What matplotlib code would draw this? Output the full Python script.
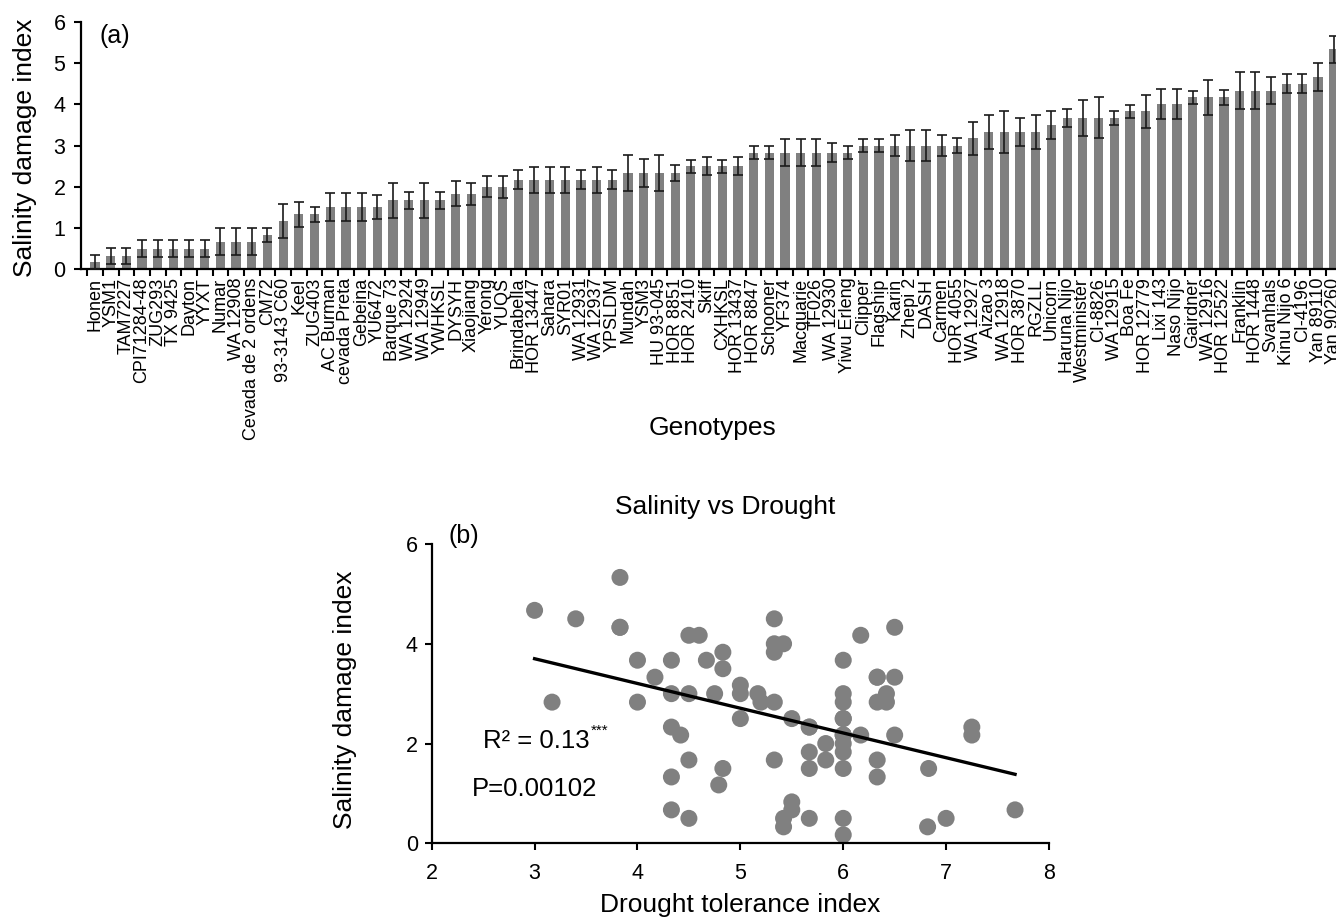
import numpy as np
import matplotlib
matplotlib.use("Agg")
import matplotlib.pyplot as plt
from matplotlib.ticker import FixedLocator, MultipleLocator

plt.rcParams['font.family'] = ['Liberation Sans', 'DejaVu Sans']

# DATA

genotypes = [
    "Honen", "YSM1", "TAM7227", "CPI71284-48", "ZUG293", "TX 9425", "Dayton", "YYXT",
    "Numar", "WA 12908", "Cevada de 2 ordens", "CM72", "93-3143 C60", "Keel", "ZUG403",
    "AC Burman", "cevada Preta", "Gebeina", "YU6472", "Barque 73", "WA 12924", "WA 12949",
    "YWHKSL", "DYSYH", "Xiaojiang", "Yerong", "YUQS", "Brindabella", "HOR 13447", "Sahara",
    "SYR01", "WA 12931", "WA 12937", "YPSLDM", "Mundah", "YSM3", "HU 93-045", "HOR 8851",
    "HOR 2410", "Skiff", "CXHKSL", "HOR 13437", "HOR 8847", "Schooner", "YF374", "Macquarie",
    "TF026", "WA 12930", "Yiwu Erleng", "Clipper", "Flagship", "Karin", "Zhepi 2", "DASH",
    "Carmen", "HOR 4055", "WA 12927", "Aizao 3", "WA 12918", "HOR 3870", "RGZLL", "Unicorn",
    "Haruna Nijo", "Westminister", "CI-8826", "WA 12915", "Boa Fe", "HOR 12779", "Lixi 143",
    "Naso Nijo", "Gairdner", "WA 12916", "HOR 12522", "Franklin", "HOR 1448", "Svanhals",
    "Kinu Nijo 6", "CI-4196", "Yan 89110", "Yan 90260",
]

salinity = [
    0.17, 0.33, 0.33, 0.5, 0.5, 0.5, 0.5, 0.5, 0.67, 0.67,
    0.67, 0.83, 1.17, 1.33, 1.33, 1.5, 1.5, 1.5, 1.5, 1.67,
    1.67, 1.67, 1.67, 1.83, 1.83, 2.0, 2.0, 2.17, 2.17, 2.17,
    2.17, 2.17, 2.17, 2.17, 2.33, 2.33, 2.33, 2.33, 2.5, 2.5,
    2.5, 2.5, 2.83, 2.83, 2.83, 2.83, 2.83, 2.83, 2.83, 3.0,
    3.0, 3.0, 3.0, 3.0, 3.0, 3.0, 3.17, 3.33, 3.33, 3.33,
    3.33, 3.5, 3.67, 3.67, 3.67, 3.67, 3.83, 3.83, 4.0, 4.0,
    4.17, 4.17, 4.17, 4.33, 4.33, 4.33, 4.5, 4.5, 4.67, 5.33,
]

salinity_err = [
    0.17, 0.19, 0.19, 0.21, 0.21, 0.21, 0.21, 0.21, 0.33, 0.33,
    0.33, 0.16, 0.41, 0.30, 0.19, 0.34, 0.34, 0.34, 0.29, 0.42,
    0.21, 0.42, 0.21, 0.30, 0.26, 0.26, 0.27, 0.23, 0.31, 0.31,
    0.31, 0.23, 0.31, 0.23, 0.43, 0.34, 0.43, 0.19, 0.16, 0.22,
    0.16, 0.22, 0.16, 0.16, 0.32, 0.32, 0.32, 0.24, 0.16, 0.15,
    0.15, 0.25, 0.38, 0.38, 0.25, 0.19, 0.41, 0.42, 0.51, 0.34,
    0.42, 0.34, 0.21, 0.43, 0.50, 0.17, 0.16, 0.40, 0.36, 0.36,
    0.16, 0.42, 0.18, 0.44, 0.44, 0.33, 0.23, 0.23, 0.34, 0.33,
]

drought = [
    6.0, 5.42, 6.82, 4.5, 5.42, 5.67, 6.0, 7.0, 4.33, 5.5,
    7.67, 5.5, 4.79, 4.33, 6.33, 4.83, 5.67, 6.0, 6.83, 4.5,
    5.33, 5.83, 6.33, 5.67, 6.0, 5.83, 6.0, 4.42, 6.0, 6.17,
    6.5, 7.25, 6.0, 6.0, 4.33, 5.67, 7.25, 5.67, 5.0, 5.5,
    6.0, 6.0, 3.17, 4.0, 5.2, 5.33, 6.0, 6.33, 6.42, 4.33,
    4.5, 4.75, 5.0, 5.17, 6.0, 6.42, 5.0, 4.17, 6.33, 6.5,
    6.33, 4.83, 4.0, 4.33, 4.67, 6.0, 4.83, 5.33, 5.33, 5.42,
    4.5, 4.6, 6.17, 3.83, 6.5, 3.83, 3.4, 5.33, 3.0, 3.83,
]

W, H = 1336, 919
fig = plt.figure(figsize=(W / 100, H / 100), dpi=100)


def fx(px):
    return px / W


def fy(py):
    return 1 - py / H


# (a) BAR CHART

ax1 = fig.add_axes([fx(80.7), fy(269.3), 1 - fx(80.7), fy(21.7) - fy(269.3)])

x = np.arange(len(genotypes))
ax1.bar(x, salinity, width=0.59, color='#808080', zorder=2)
ax1.errorbar(x, salinity, yerr=salinity_err, fmt='none', ecolor='#1a1a1a',
             elinewidth=1.2, capsize=3.6, capthick=1.2, zorder=3)

ax1.set_xlim(-0.912, (1336 - 95) / 15.68)
ax1.set_ylim(0, 6)
ax1.yaxis.set_major_locator(MultipleLocator(1))

ax1.set_xticks(x)
ax1.set_xticklabels(genotypes, rotation=90, fontsize=13, ha='center', va='top')
ax1.xaxis.set_minor_locator(FixedLocator(x - 0.5))
ax1.tick_params(axis='x', which='major', length=0, pad=6)
ax1.tick_params(axis='x', which='minor', length=5, width=1.5, direction='out')
ax1.tick_params(axis='y', length=5, width=1.5, direction='out', labelsize=15.5, pad=6)

for s in ['top', 'right']:
    ax1.spines[s].set_visible(False)
for s in ['left', 'bottom']:
    ax1.spines[s].set_linewidth(1.6)

ax1.set_ylabel("Salinity damage index", fontsize=19)
ax1.yaxis.set_label_coords(-(80.7 - 37) / (1336 - 80.7), 0.49)

fig.text(fx(100), fy(36), "(a)", fontsize=18, ha='left', va='center')
fig.text(fx(713), fy(428), "Genotypes", fontsize=19, ha='center', va='center')

# (b) SCATTER

ax2 = fig.add_axes([fx(431.7), fy(843.3), fx(1049) - fx(431.7), fy(544) - fy(843.3)])

ax2.scatter(drought, salinity, s=150, color='#808080', edgecolors='none', zorder=2)

slope, intercept = np.polyfit(drought, salinity, 1)
xs = np.array([min(drought), max(drought)])
ax2.plot(xs, slope * xs + intercept, color='black', linewidth=2.4, zorder=3)

ax2.set_xlim(2, 8)
ax2.set_ylim(0, 6)
ax2.xaxis.set_major_locator(MultipleLocator(1))
ax2.yaxis.set_major_locator(MultipleLocator(2))
ax2.tick_params(length=5, width=1.5, direction='out', labelsize=15.5, pad=5)
ax2.tick_params(axis='x', pad=9)

for s in ['top', 'right']:
    ax2.spines[s].set_visible(False)
for s in ['left', 'bottom']:
    ax2.spines[s].set_linewidth(1.6)
    ax2.spines[s].set_clip_on(False)

ax2.set_ylabel("Salinity damage index", fontsize=19)
ax2.yaxis.set_label_coords((357 - 431.7) / (1049 - 431.7), 0.48)
ax2.set_xlabel("Drought tolerance index", fontsize=19, labelpad=7)

fig.text(fx(725), fy(507), "Salinity vs Drought", fontsize=19, ha='center', va='center')
fig.text(fx(448), fy(536), "(b)", fontsize=18, ha='left', va='center')
fig.text(fx(483), fy(741), "R\u00b2 = 0.13", fontsize=18.5, ha='left', va='center')
fig.text(fx(591), fy(731), "***", fontsize=11, ha='left', va='center')
fig.text(fx(472), fy(789), "P=0.00102", fontsize=18.5, ha='left', va='center')

fig.savefig("out.png", dpi=100)
